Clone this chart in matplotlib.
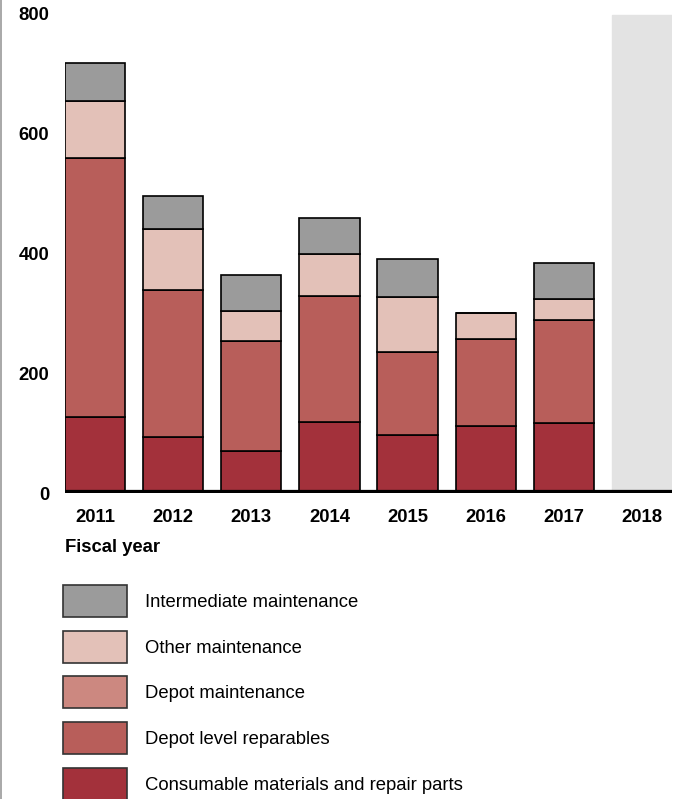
import matplotlib.pyplot as plt
from matplotlib.lines import Line2D
from matplotlib.patches import Patch

plt.rcParams["font.family"] = ["Liberation Sans", "DejaVu Sans"]

years = ["2011", "2012", "2013", "2014", "2015", "2016", "2017", "2018"]
consumable = [127, 93, 70, 118, 97, 111, 117]
depot_reparables = [431, 245, 183, 210, 138, 146, 171]
depot_maint = [0, 0, 0, 0, 0, 0, 0]
other_maint = [95, 102, 50, 70, 92, 43, 35]
intermediate = [64, 55, 60, 60, 63, 0, 60]

series = [
    ("Consumable materials and repair parts", consumable, "#a3313b"),
    ("Depot level reparables", depot_reparables, "#b85e5a"),
    ("Depot maintenance", depot_maint, "#cc8880"),
    ("Other maintenance", other_maint, "#e3c1b8"),
    ("Intermediate maintenance", intermediate, "#9b9b9b"),
]

fig = plt.figure(figsize=(6.78, 7.99), dpi=100)
ax = fig.add_axes([65 / 678, 1 - 493 / 799, 607 / 678, 480 / 799])

width = 0.77
x = list(range(len(years)))
bottom = [0] * len(consumable)
for label, vals, color in series:
    ax.bar(x[: len(vals)], vals, width, bottom=bottom, color=color,
           edgecolor="black", linewidth=1.2, label=label)
    bottom = [b + v for b, v in zip(bottom, vals)]

# 2018 column is shaded, no data yet
ax.axvspan(7 - width / 2, 7 + width / 2, ymax=0.995, color="#e3e3e3", zorder=0)
ax.axhline(0, color="black", linewidth=4.5, zorder=5)

ax.set_xlim(-0.385, 7.385)
ax.set_ylim(0, 800)
ax.set_yticks([0, 200, 400, 600, 800])
ax.set_xticks(x)
ax.set_xticklabels(years)
for s in ax.spines.values():
    s.set_visible(False)
ax.tick_params(axis="both", length=0, labelsize=13.3)
ax.tick_params(axis="y", pad=11.5)
ax.tick_params(axis="x", pad=11.5)
for t in ax.get_xticklabels() + ax.get_yticklabels():
    t.set_fontweight("bold")

fig.text(65 / 678, 1 - 548 / 799, "Fiscal year", fontsize=13.3,
         fontweight="bold", va="center", ha="left")

handles = [Patch(facecolor=c, edgecolor="#333333", linewidth=1.2, label=l)
           for l, v, c in reversed(series)]
fig.legend(handles=handles, loc="upper left",
           bbox_to_anchor=(63 / 678, 1 - 585 / 799), frameon=False,
           fontsize=13.35, handlelength=3.45, handleheight=2.29,
           labelspacing=0.73, handletextpad=0.97, borderpad=0,
           borderaxespad=0)

fig.add_artist(Line2D([0.0015, 0.0015], [0, 1], color="#999999", linewidth=1.2))

fig.savefig("out.png", dpi=100)
